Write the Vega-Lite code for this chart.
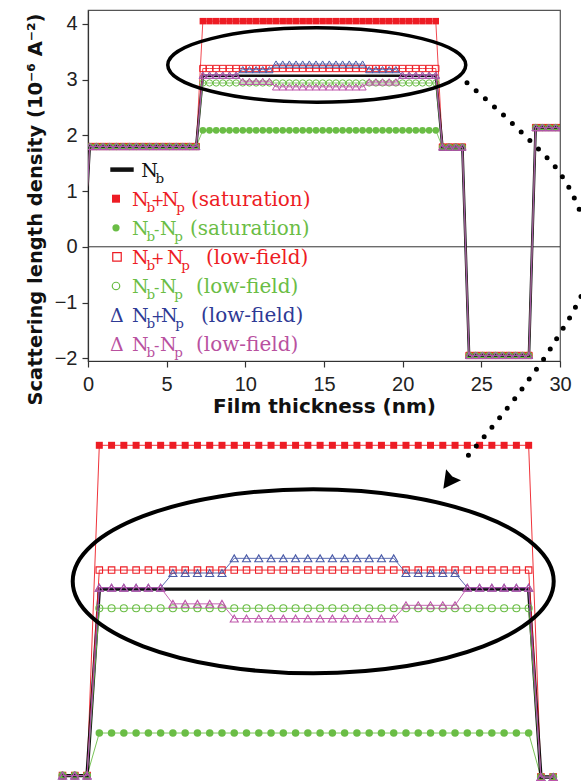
{
  "$schema": "https://vega.github.io/schema/vega-lite/v6.json",
  "background": "white",
  "autosize": {"type": "pad"},
  "padding": {"left": 24, "top": 9, "right": 0, "bottom": 0},
  "config": {"view": {"stroke": null}},
  "bounds": "flush",
  "spacing": 70,
  "datasets": {
    "profile": [
      {"k":-1,"x":-0.314,"nb":-0.4,"sp":-0.4,"sm":-0.4,"lp":-0.4,"lm":-0.4,"dp":-0.4,"dm":-0.4},
      {"k":0,"x":0.109,"nb":1.8,"sp":1.8,"sm":1.8,"lp":1.8,"lm":1.8,"dp":1.8,"dm":1.8},
      {"k":1,"x":0.532,"nb":1.8,"sp":1.8,"sm":1.8,"lp":1.8,"lm":1.8,"dp":1.8,"dm":1.8},
      {"k":2,"x":0.955,"nb":1.8,"sp":1.8,"sm":1.8,"lp":1.8,"lm":1.8,"dp":1.8,"dm":1.8},
      {"k":3,"x":1.378,"nb":1.8,"sp":1.8,"sm":1.8,"lp":1.8,"lm":1.8,"dp":1.8,"dm":1.8},
      {"k":4,"x":1.801,"nb":1.8,"sp":1.8,"sm":1.8,"lp":1.8,"lm":1.8,"dp":1.8,"dm":1.8},
      {"k":5,"x":2.224,"nb":1.8,"sp":1.8,"sm":1.8,"lp":1.8,"lm":1.8,"dp":1.8,"dm":1.8},
      {"k":6,"x":2.647,"nb":1.8,"sp":1.8,"sm":1.8,"lp":1.8,"lm":1.8,"dp":1.8,"dm":1.8},
      {"k":7,"x":3.07,"nb":1.8,"sp":1.8,"sm":1.8,"lp":1.8,"lm":1.8,"dp":1.8,"dm":1.8},
      {"k":8,"x":3.493,"nb":1.8,"sp":1.8,"sm":1.8,"lp":1.8,"lm":1.8,"dp":1.8,"dm":1.8},
      {"k":9,"x":3.916,"nb":1.8,"sp":1.8,"sm":1.8,"lp":1.8,"lm":1.8,"dp":1.8,"dm":1.8},
      {"k":10,"x":4.339,"nb":1.8,"sp":1.8,"sm":1.8,"lp":1.8,"lm":1.8,"dp":1.8,"dm":1.8},
      {"k":11,"x":4.762,"nb":1.8,"sp":1.8,"sm":1.8,"lp":1.8,"lm":1.8,"dp":1.8,"dm":1.8},
      {"k":12,"x":5.185,"nb":1.8,"sp":1.8,"sm":1.8,"lp":1.8,"lm":1.8,"dp":1.8,"dm":1.8},
      {"k":13,"x":5.608,"nb":1.8,"sp":1.8,"sm":1.8,"lp":1.8,"lm":1.8,"dp":1.8,"dm":1.8},
      {"k":14,"x":6.031,"nb":1.8,"sp":1.8,"sm":1.8,"lp":1.8,"lm":1.8,"dp":1.8,"dm":1.8},
      {"k":15,"x":6.454,"nb":1.8,"sp":1.8,"sm":1.8,"lp":1.8,"lm":1.8,"dp":1.8,"dm":1.8},
      {"k":16,"x":6.877,"nb":1.8,"sp":1.8,"sm":1.8,"lp":1.8,"lm":1.8,"dp":1.8,"dm":1.8},
      {"k":17,"x":7.3,"nb":3.07,"sp":4.05,"sm":2.09,"lp":3.2,"lm":2.94,"dp":3.08,"dm":3.08},
      {"k":18,"x":7.723,"nb":3.07,"sp":4.05,"sm":2.09,"lp":3.2,"lm":2.94,"dp":3.08,"dm":3.08},
      {"k":19,"x":8.146,"nb":3.07,"sp":4.05,"sm":2.09,"lp":3.2,"lm":2.94,"dp":3.08,"dm":3.08},
      {"k":20,"x":8.569,"nb":3.07,"sp":4.05,"sm":2.09,"lp":3.2,"lm":2.94,"dp":3.08,"dm":3.08},
      {"k":21,"x":8.992,"nb":3.07,"sp":4.05,"sm":2.09,"lp":3.2,"lm":2.94,"dp":3.08,"dm":3.08},
      {"k":22,"x":9.415,"nb":3.07,"sp":4.05,"sm":2.09,"lp":3.2,"lm":2.94,"dp":3.08,"dm":3.08},
      {"k":23,"x":9.838,"nb":3.07,"sp":4.05,"sm":2.09,"lp":3.2,"lm":2.94,"dp":3.18,"dm":2.97},
      {"k":24,"x":10.261,"nb":3.07,"sp":4.05,"sm":2.09,"lp":3.2,"lm":2.94,"dp":3.18,"dm":2.97},
      {"k":25,"x":10.684,"nb":3.07,"sp":4.05,"sm":2.09,"lp":3.2,"lm":2.94,"dp":3.18,"dm":2.97},
      {"k":26,"x":11.107,"nb":3.07,"sp":4.05,"sm":2.09,"lp":3.2,"lm":2.94,"dp":3.18,"dm":2.97},
      {"k":27,"x":11.53,"nb":3.07,"sp":4.05,"sm":2.09,"lp":3.2,"lm":2.94,"dp":3.18,"dm":2.97},
      {"k":28,"x":11.953,"nb":3.07,"sp":4.05,"sm":2.09,"lp":3.2,"lm":2.94,"dp":3.28,"dm":2.87},
      {"k":29,"x":12.376,"nb":3.07,"sp":4.05,"sm":2.09,"lp":3.2,"lm":2.94,"dp":3.28,"dm":2.87},
      {"k":30,"x":12.799,"nb":3.07,"sp":4.05,"sm":2.09,"lp":3.2,"lm":2.94,"dp":3.28,"dm":2.87},
      {"k":31,"x":13.222,"nb":3.07,"sp":4.05,"sm":2.09,"lp":3.2,"lm":2.94,"dp":3.28,"dm":2.87},
      {"k":32,"x":13.645,"nb":3.07,"sp":4.05,"sm":2.09,"lp":3.2,"lm":2.94,"dp":3.28,"dm":2.87},
      {"k":33,"x":14.068,"nb":3.07,"sp":4.05,"sm":2.09,"lp":3.2,"lm":2.94,"dp":3.28,"dm":2.87},
      {"k":34,"x":14.491,"nb":3.07,"sp":4.05,"sm":2.09,"lp":3.2,"lm":2.94,"dp":3.28,"dm":2.87},
      {"k":35,"x":14.914,"nb":3.07,"sp":4.05,"sm":2.09,"lp":3.2,"lm":2.94,"dp":3.28,"dm":2.87},
      {"k":36,"x":15.337,"nb":3.07,"sp":4.05,"sm":2.09,"lp":3.2,"lm":2.94,"dp":3.28,"dm":2.87},
      {"k":37,"x":15.76,"nb":3.07,"sp":4.05,"sm":2.09,"lp":3.2,"lm":2.94,"dp":3.28,"dm":2.87},
      {"k":38,"x":16.183,"nb":3.07,"sp":4.05,"sm":2.09,"lp":3.2,"lm":2.94,"dp":3.28,"dm":2.87},
      {"k":39,"x":16.606,"nb":3.07,"sp":4.05,"sm":2.09,"lp":3.2,"lm":2.94,"dp":3.28,"dm":2.87},
      {"k":40,"x":17.029,"nb":3.07,"sp":4.05,"sm":2.09,"lp":3.2,"lm":2.94,"dp":3.28,"dm":2.87},
      {"k":41,"x":17.452,"nb":3.07,"sp":4.05,"sm":2.09,"lp":3.2,"lm":2.94,"dp":3.28,"dm":2.87},
      {"k":42,"x":17.875,"nb":3.07,"sp":4.05,"sm":2.09,"lp":3.2,"lm":2.94,"dp":3.18,"dm":2.96},
      {"k":43,"x":18.298,"nb":3.07,"sp":4.05,"sm":2.09,"lp":3.2,"lm":2.94,"dp":3.18,"dm":2.96},
      {"k":44,"x":18.721,"nb":3.07,"sp":4.05,"sm":2.09,"lp":3.2,"lm":2.94,"dp":3.18,"dm":2.96},
      {"k":45,"x":19.144,"nb":3.07,"sp":4.05,"sm":2.09,"lp":3.2,"lm":2.94,"dp":3.18,"dm":2.96},
      {"k":46,"x":19.567,"nb":3.07,"sp":4.05,"sm":2.09,"lp":3.2,"lm":2.94,"dp":3.18,"dm":2.96},
      {"k":47,"x":19.99,"nb":3.07,"sp":4.05,"sm":2.09,"lp":3.2,"lm":2.94,"dp":3.08,"dm":3.08},
      {"k":48,"x":20.413,"nb":3.07,"sp":4.05,"sm":2.09,"lp":3.2,"lm":2.94,"dp":3.08,"dm":3.08},
      {"k":49,"x":20.836,"nb":3.07,"sp":4.05,"sm":2.09,"lp":3.2,"lm":2.94,"dp":3.08,"dm":3.08},
      {"k":50,"x":21.259,"nb":3.07,"sp":4.05,"sm":2.09,"lp":3.2,"lm":2.94,"dp":3.08,"dm":3.08},
      {"k":51,"x":21.682,"nb":3.07,"sp":4.05,"sm":2.09,"lp":3.2,"lm":2.94,"dp":3.08,"dm":3.08},
      {"k":52,"x":22.105,"nb":3.07,"sp":4.05,"sm":2.09,"lp":3.2,"lm":2.94,"dp":3.08,"dm":3.08},
      {"k":53,"x":22.528,"nb":1.79,"sp":1.79,"sm":1.79,"lp":1.79,"lm":1.79,"dp":1.79,"dm":1.79},
      {"k":54,"x":22.951,"nb":1.79,"sp":1.79,"sm":1.79,"lp":1.79,"lm":1.79,"dp":1.79,"dm":1.79},
      {"k":55,"x":23.374,"nb":1.79,"sp":1.79,"sm":1.79,"lp":1.79,"lm":1.79,"dp":1.79,"dm":1.79},
      {"k":56,"x":23.797,"nb":1.79,"sp":1.79,"sm":1.79,"lp":1.79,"lm":1.79,"dp":1.79,"dm":1.79},
      {"k":57,"x":24.22,"nb":-1.95,"sp":-1.95,"sm":-1.95,"lp":-1.95,"lm":-1.95,"dp":-1.95,"dm":-1.95},
      {"k":58,"x":24.643,"nb":-1.95,"sp":-1.95,"sm":-1.95,"lp":-1.95,"lm":-1.95,"dp":-1.95,"dm":-1.95},
      {"k":59,"x":25.066,"nb":-1.95,"sp":-1.95,"sm":-1.95,"lp":-1.95,"lm":-1.95,"dp":-1.95,"dm":-1.95},
      {"k":60,"x":25.489,"nb":-1.95,"sp":-1.95,"sm":-1.95,"lp":-1.95,"lm":-1.95,"dp":-1.95,"dm":-1.95},
      {"k":61,"x":25.912,"nb":-1.95,"sp":-1.95,"sm":-1.95,"lp":-1.95,"lm":-1.95,"dp":-1.95,"dm":-1.95},
      {"k":62,"x":26.335,"nb":-1.95,"sp":-1.95,"sm":-1.95,"lp":-1.95,"lm":-1.95,"dp":-1.95,"dm":-1.95},
      {"k":63,"x":26.758,"nb":-1.95,"sp":-1.95,"sm":-1.95,"lp":-1.95,"lm":-1.95,"dp":-1.95,"dm":-1.95},
      {"k":64,"x":27.181,"nb":-1.95,"sp":-1.95,"sm":-1.95,"lp":-1.95,"lm":-1.95,"dp":-1.95,"dm":-1.95},
      {"k":65,"x":27.604,"nb":-1.95,"sp":-1.95,"sm":-1.95,"lp":-1.95,"lm":-1.95,"dp":-1.95,"dm":-1.95},
      {"k":66,"x":28.027,"nb":-1.95,"sp":-1.95,"sm":-1.95,"lp":-1.95,"lm":-1.95,"dp":-1.95,"dm":-1.95},
      {"k":67,"x":28.45,"nb":2.14,"sp":2.14,"sm":2.14,"lp":2.14,"lm":2.14,"dp":2.14,"dm":2.14},
      {"k":68,"x":28.873,"nb":2.14,"sp":2.14,"sm":2.14,"lp":2.14,"lm":2.14,"dp":2.14,"dm":2.14},
      {"k":69,"x":29.296,"nb":2.14,"sp":2.14,"sm":2.14,"lp":2.14,"lm":2.14,"dp":2.14,"dm":2.14},
      {"k":70,"x":29.719,"nb":2.14,"sp":2.14,"sm":2.14,"lp":2.14,"lm":2.14,"dp":2.14,"dm":2.14},
      {"k":71,"x":30.142,"nb":2.14,"sp":2.14,"sm":2.14,"lp":2.14,"lm":2.14,"dp":2.14,"dm":2.14}
    ],
    "legendText": [
      {"x":3.388,"v":1.2597,"t":"N","r":"main","s":"nb"},
      {"x":4.29,"v":1.2597,"t":"b","r":"sub","s":"nb"},
      {"x":2.797,"v":0.7375,"t":"N","r":"main","s":"sp"},
      {"x":3.718,"v":0.7375,"t":"b","r":"sub","s":"sp"},
      {"x":4.437,"v":0.7375,"t":"+","r":"op","s":"sp"},
      {"x":4.703,"v":0.7375,"t":"N","r":"main","s":"sp"},
      {"x":5.609,"v":0.7375,"t":"p","r":"sub","s":"sp"},
      {"x":6.546,"v":0.7375,"t":"(saturation)","r":"paren","s":"sp"},
      {"x":2.797,"v":0.2153,"t":"N","r":"main","s":"sm"},
      {"x":3.718,"v":0.2153,"t":"b","r":"sub","s":"sm"},
      {"x":4.367,"v":0.2153,"t":"-","r":"op","s":"sm"},
      {"x":4.576,"v":0.2153,"t":"N","r":"main","s":"sm"},
      {"x":5.482,"v":0.2153,"t":"p","r":"sub","s":"sm"},
      {"x":6.482,"v":0.2153,"t":"(saturation)","r":"paren","s":"sm"},
      {"x":2.797,"v":-0.3068,"t":"N","r":"main","s":"lp"},
      {"x":3.718,"v":-0.3068,"t":"b","r":"sub","s":"lp"},
      {"x":4.437,"v":-0.3068,"t":"+","r":"op","s":"lp"},
      {"x":5.021,"v":-0.3068,"t":"N","r":"main","s":"lp"},
      {"x":5.924,"v":-0.3068,"t":"p","r":"sub","s":"lp"},
      {"x":7.5,"v":-0.3068,"t":"(low-field)","r":"paren","s":"lp"},
      {"x":2.797,"v":-0.829,"t":"N","r":"main","s":"lm"},
      {"x":3.718,"v":-0.829,"t":"b","r":"sub","s":"lm"},
      {"x":4.367,"v":-0.829,"t":"-","r":"op","s":"lm"},
      {"x":4.576,"v":-0.829,"t":"N","r":"main","s":"lm"},
      {"x":5.482,"v":-0.829,"t":"p","r":"sub","s":"lm"},
      {"x":6.864,"v":-0.829,"t":"(low-field)","r":"paren","s":"lm"},
      {"x":1.398,"v":-1.3512,"t":"Δ","r":"main","s":"dp"},
      {"x":2.797,"v":-1.3512,"t":"N","r":"main","s":"dp"},
      {"x":3.718,"v":-1.3512,"t":"b","r":"sub","s":"dp"},
      {"x":4.437,"v":-1.3512,"t":"+","r":"op","s":"dp"},
      {"x":4.64,"v":-1.3512,"t":"N","r":"main","s":"dp"},
      {"x":5.542,"v":-1.3512,"t":"p","r":"sub","s":"dp"},
      {"x":7.182,"v":-1.3512,"t":"(low-field)","r":"paren","s":"dp"},
      {"x":1.398,"v":-1.8733,"t":"Δ","r":"main","s":"dm"},
      {"x":2.797,"v":-1.8733,"t":"N","r":"main","s":"dm"},
      {"x":3.718,"v":-1.8733,"t":"b","r":"sub","s":"dm"},
      {"x":4.367,"v":-1.8733,"t":"-","r":"op","s":"dm"},
      {"x":4.576,"v":-1.8733,"t":"N","r":"main","s":"dm"},
      {"x":5.482,"v":-1.8733,"t":"p","r":"sub","s":"dm"},
      {"x":6.864,"v":-1.8733,"t":"(low-field)","r":"paren","s":"dm"}
    ],
    "legendSymbols": [
      {"x":1.78,"v":0.8631,"s":"sp"},
      {"x":1.78,"v":0.3409,"s":"sm"},
      {"x":1.843,"v":-0.1812,"s":"lp"},
      {"x":1.78,"v":-0.7034,"s":"lm"}
    ],
    "legendLine": [{"x":1.417,"x2":2.905,"v":1.3853}],
    "zoomPath": [
      {"seg":"a","i":0,"x":19.979,"v":6.52},
      {"seg":"a","i":1,"x":20.61,"v":6.411},
      {"seg":"a","i":2,"x":21.244,"v":6.298},
      {"seg":"a","i":3,"x":21.851,"v":6.184},
      {"seg":"a","i":4,"x":22.451,"v":6.066},
      {"seg":"a","i":5,"x":23.024,"v":5.946},
      {"seg":"a","i":6,"x":23.52,"v":5.798},
      {"seg":"a","i":7,"x":23.858,"v":5.653},
      {"seg":"b","i":0,"x":23.91,"v":5.064},
      {"seg":"b","i":1,"x":23.555,"v":4.931},
      {"seg":"b","i":2,"x":23.107,"v":4.788},
      {"seg":"b","i":3,"x":22.658,"v":4.647},
      {"seg":"b","i":4,"x":22.141,"v":4.506},
      {"seg":"b","i":5,"x":21.634,"v":4.37},
      {"seg":"b","i":6,"x":21.127,"v":4.243},
      {"seg":"b","i":7,"x":20.589,"v":4.113},
      {"seg":"b","i":8,"x":20.038,"v":3.984},
      {"seg":"b","i":9,"x":19.762,"v":3.921}
    ]
  },
  "vconcat": [
    {
      "width": 472,
      "height": 351,
      "view": {"stroke": "#555", "strokeWidth": 1.2},
      "layer": [
        {
          "data": {"values": [{"v": 0}]},
          "mark": {"type": "rule", "color": "#333", "strokeWidth": 1},
          "encoding": {"y": {"field": "v", "type": "quantitative"}}
        },
        {
          "data": {"name": "profile"},
          "layer": [
            {
              "mark": {"type": "line", "color": "#ED1C24", "strokeWidth": 0.8, "clip": true},
              "encoding": {
                "x": {
                  "field": "x", "type": "quantitative",
                  "scale": {"domain": [0, 30], "nice": false, "zero": false},
                  "axis": {
                    "title": "Film thickness (nm)",
                    "values": [0, 2.5, 5, 7.5, 10, 12.5, 15, 17.5, 20, 22.5, 25, 27.5, 30],
                    "labelExpr": "datum.value % 5 === 0 ? format(datum.value, 'd') : ''",
                    "tickSize": {"condition": {"test": "datum.value % 5 === 0", "value": 6}, "value": 3.5},
                    "grid": false,
                    "domainColor": "#333", "domainWidth": 1.2,
                    "tickColor": "#333", "tickWidth": 1.2,
                    "labelFont": "Liberation Sans", "labelFontSize": 20, "labelColor": "#222",
                    "labelPadding": 7, "labelFlush": false, "labelOverlap": false,
                    "titleFont": "DejaVu Sans", "titleFontSize": 20, "titleFontWeight": "bold", "titleColor": "#111",
                    "titleBaseline": "alphabetic", "titleY": 51
                  }
                },
                "y": {
                  "field": "sp", "type": "quantitative",
                  "scale": {"domain": [-2.05, 4.25], "nice": false, "zero": false},
                  "axis": {
                    "title": "Scattering length density (10⁻⁶ A⁻²)",
                    "values": [-2, -1.5, -1, -0.5, 0, 0.5, 1, 1.5, 2, 2.5, 3, 3.5, 4],
                    "labelExpr": "datum.value % 1 === 0 ? format(datum.value, 'd') : ''",
                    "tickSize": {"condition": {"test": "datum.value % 1 === 0", "value": 6}, "value": 3.5},
                    "grid": false,
                    "domainColor": "#333", "domainWidth": 1.2,
                    "tickColor": "#333", "tickWidth": 1.2,
                    "labelFont": "Liberation Sans", "labelFontSize": 20, "labelColor": "#222",
                    "labelPadding": 5, "labelFlush": false, "labelOverlap": false,
                    "titleFont": "DejaVu Sans", "titleFontSize": 19.5, "titleFontWeight": "bold", "titleColor": "#111",
                    "titleAngle": 270, "titleAlign": "center", "titleBaseline": "alphabetic",
                    "titleX": -47, "titleY": 199
                  }
                }
              }
            },
            {
              "mark": {"type": "point", "shape": "square", "filled": true, "size": 42, "color": "#ED1C24", "opacity": 1, "clip": true},
              "encoding": {"x": {"field": "x", "type": "quantitative"}, "y": {"field": "sp", "type": "quantitative"}}
            },
            {
              "mark": {"type": "line", "color": "#6ABD45", "strokeWidth": 0.8, "clip": true},
              "encoding": {"x": {"field": "x", "type": "quantitative"}, "y": {"field": "sm", "type": "quantitative"}}
            },
            {
              "mark": {"type": "point", "shape": "circle", "filled": true, "size": 46, "color": "#6ABD45", "opacity": 1, "clip": true},
              "encoding": {"x": {"field": "x", "type": "quantitative"}, "y": {"field": "sm", "type": "quantitative"}}
            },
            {
              "mark": {"type": "line", "color": "#111111", "strokeWidth": 2.6, "clip": true},
              "encoding": {"x": {"field": "x", "type": "quantitative"}, "y": {"field": "nb", "type": "quantitative"}}
            },
            {
              "mark": {"type": "line", "color": "#ED1C24", "strokeWidth": 0.8, "clip": true},
              "encoding": {"x": {"field": "x", "type": "quantitative"}, "y": {"field": "lp", "type": "quantitative"}}
            },
            {
              "mark": {"type": "point", "shape": "square", "filled": false, "size": 40, "strokeWidth": 1, "color": "#ED1C24", "opacity": 1, "clip": true},
              "encoding": {"x": {"field": "x", "type": "quantitative"}, "y": {"field": "lp", "type": "quantitative"}}
            },
            {
              "mark": {"type": "line", "color": "#6ABD45", "strokeWidth": 0.8, "clip": true},
              "encoding": {"x": {"field": "x", "type": "quantitative"}, "y": {"field": "lm", "type": "quantitative"}}
            },
            {
              "mark": {"type": "point", "shape": "circle", "filled": false, "size": 40, "strokeWidth": 1, "color": "#6ABD45", "opacity": 1, "clip": true},
              "encoding": {"x": {"field": "x", "type": "quantitative"}, "y": {"field": "lm", "type": "quantitative"}}
            },
            {
              "mark": {"type": "line", "color": "#4A5BA8", "strokeWidth": 0.8, "clip": true},
              "encoding": {"x": {"field": "x", "type": "quantitative"}, "y": {"field": "dp", "type": "quantitative"}}
            },
            {
              "mark": {"type": "point", "shape": "triangle-up", "filled": false, "size": 52, "strokeWidth": 1, "color": "#4A5BA8", "opacity": 1, "clip": true},
              "encoding": {"x": {"field": "x", "type": "quantitative"}, "y": {"field": "dp", "type": "quantitative"}}
            },
            {
              "mark": {"type": "line", "color": "#BE55AA", "strokeWidth": 0.8, "clip": true},
              "encoding": {"x": {"field": "x", "type": "quantitative"}, "y": {"field": "dm", "type": "quantitative"}}
            },
            {
              "mark": {"type": "point", "shape": "triangle-up", "filled": false, "size": 52, "strokeWidth": 1, "color": "#BE55AA", "opacity": 1, "clip": true},
              "encoding": {"x": {"field": "x", "type": "quantitative"}, "y": {"field": "dm", "type": "quantitative"}}
            }
          ]
        },
        {
          "data": {"name": "legendLine"},
          "mark": {"type": "rule", "color": "#111111", "strokeWidth": 4.5},
          "encoding": {
            "x": {"field": "x", "type": "quantitative"},
            "x2": {"field": "x2"},
            "y": {"field": "v", "type": "quantitative"}
          }
        },
        {
          "data": {"name": "legendSymbols"},
          "transform": [{"filter": "datum.s === 'sp'"}],
          "mark": {"type": "point", "shape": "square", "filled": true, "size": 64, "color": "#ED1C24", "opacity": 1},
          "encoding": {"x": {"field": "x", "type": "quantitative"}, "y": {"field": "v", "type": "quantitative"}}
        },
        {
          "data": {"name": "legendSymbols"},
          "transform": [{"filter": "datum.s === 'sm'"}],
          "mark": {"type": "point", "shape": "circle", "filled": true, "size": 52, "color": "#6ABD45", "opacity": 1},
          "encoding": {"x": {"field": "x", "type": "quantitative"}, "y": {"field": "v", "type": "quantitative"}}
        },
        {
          "data": {"name": "legendSymbols"},
          "transform": [{"filter": "datum.s === 'lp'"}],
          "mark": {"type": "point", "shape": "square", "filled": false, "size": 72, "strokeWidth": 1.2, "color": "#ED1C24", "opacity": 1},
          "encoding": {"x": {"field": "x", "type": "quantitative"}, "y": {"field": "v", "type": "quantitative"}}
        },
        {
          "data": {"name": "legendSymbols"},
          "transform": [{"filter": "datum.s === 'lm'"}],
          "mark": {"type": "point", "shape": "circle", "filled": false, "size": 56, "strokeWidth": 1.2, "color": "#6ABD45", "opacity": 1},
          "encoding": {"x": {"field": "x", "type": "quantitative"}, "y": {"field": "v", "type": "quantitative"}}
        },
        {
          "data": {"name": "legendText"},
          "transform": [{"filter": "datum.r === 'main'"}],
          "mark": {"type": "text", "font": "DejaVu Serif", "fontSize": 19, "align": "left", "baseline": "alphabetic"},
          "encoding": {
            "x": {"field": "x", "type": "quantitative"},
            "y": {"field": "v", "type": "quantitative"},
            "text": {"field": "t"},
            "color": {"field": "s", "type": "nominal", "legend": null,
              "scale": {"domain": ["nb", "sp", "sm", "lp", "lm", "dp", "dm"], "range": ["#111111", "#ED1C24", "#6ABD45", "#ED1C24", "#6ABD45", "#2E3A95", "#B9519F"]}}
          }
        },
        {
          "data": {"name": "legendText"},
          "transform": [{"filter": "datum.r === 'sub'"}],
          "mark": {"type": "text", "font": "DejaVu Serif", "fontSize": 13.5, "align": "left", "baseline": "alphabetic", "dy": 6},
          "encoding": {
            "x": {"field": "x", "type": "quantitative"},
            "y": {"field": "v", "type": "quantitative"},
            "text": {"field": "t"},
            "color": {"field": "s", "type": "nominal", "legend": null,
              "scale": {"domain": ["nb", "sp", "sm", "lp", "lm", "dp", "dm"], "range": ["#111111", "#ED1C24", "#6ABD45", "#ED1C24", "#6ABD45", "#2E3A95", "#B9519F"]}}
          }
        },
        {
          "data": {"name": "legendText"},
          "transform": [{"filter": "datum.r === 'op'"}],
          "mark": {"type": "text", "font": "DejaVu Serif", "fontSize": 16, "align": "center", "baseline": "alphabetic"},
          "encoding": {
            "x": {"field": "x", "type": "quantitative"},
            "y": {"field": "v", "type": "quantitative"},
            "text": {"field": "t"},
            "color": {"field": "s", "type": "nominal", "legend": null,
              "scale": {"domain": ["nb", "sp", "sm", "lp", "lm", "dp", "dm"], "range": ["#111111", "#ED1C24", "#6ABD45", "#ED1C24", "#6ABD45", "#2E3A95", "#B9519F"]}}
          }
        },
        {
          "data": {"name": "legendText"},
          "transform": [{"filter": "datum.r === 'paren'"}],
          "mark": {"type": "text", "font": "DejaVu Serif", "fontSize": 20, "align": "left", "baseline": "alphabetic"},
          "encoding": {
            "x": {"field": "x", "type": "quantitative"},
            "y": {"field": "v", "type": "quantitative"},
            "text": {"field": "t"},
            "color": {"field": "s", "type": "nominal", "legend": null,
              "scale": {"domain": ["nb", "sp", "sm", "lp", "lm", "dp", "dm"], "range": ["#111111", "#ED1C24", "#6ABD45", "#ED1C24", "#6ABD45", "#2E3A95", "#B9519F"]}}
          }
        },
        {
          "data": {"values": [{"x": 14.54, "v": 3.264}]},
          "mark": {"type": "point", "shape": "M 1 0 C 1 0.1379 0.5523 0.2497 0 0.2497 C -0.5523 0.2497 -1 0.1379 -1 0 C -1 -0.1379 -0.5523 -0.2497 0 -0.2497 C 0.5523 -0.2497 1 -0.1379 1 0 Z",
                   "size": 88804, "filled": false, "color": "#000000", "strokeWidth": 3.5, "opacity": 1},
          "encoding": {"x": {"field": "x", "type": "quantitative"}, "y": {"field": "v", "type": "quantitative"}}
        }
      ]
    },
    {
      "width": 472,
      "height": 353,
      "view": {"stroke": null},
      "layer": [
        {
          "data": {"name": "profile"},
          "transform": [{"filter": "datum.k >= 14 && datum.k <= 54"}],
          "layer": [
            {
              "mark": {"type": "line", "color": "#ED1C24", "strokeWidth": 0.9},
              "encoding": {
                "x": {"field": "x", "type": "quantitative", "scale": {"domain": [6.91, 23.186], "nice": false, "zero": false}, "axis": null},
                "y": {"field": "sp", "type": "quantitative", "scale": {"domain": [1.7428, 4.1474], "nice": false, "zero": false}, "axis": null}
              }
            },
            {
              "mark": {"type": "point", "shape": "square", "filled": true, "size": 49, "color": "#ED1C24", "opacity": 1},
              "encoding": {"x": {"field": "x", "type": "quantitative", "axis": null}, "y": {"field": "sp", "type": "quantitative", "axis": null}}
            },
            {
              "mark": {"type": "line", "color": "#6ABD45", "strokeWidth": 0.9},
              "encoding": {"x": {"field": "x", "type": "quantitative", "axis": null}, "y": {"field": "sm", "type": "quantitative", "axis": null}}
            },
            {
              "mark": {"type": "point", "shape": "circle", "filled": true, "size": 56, "color": "#6ABD45", "opacity": 1},
              "encoding": {"x": {"field": "x", "type": "quantitative", "axis": null}, "y": {"field": "sm", "type": "quantitative", "axis": null}}
            },
            {
              "mark": {"type": "line", "color": "#111111", "strokeWidth": 3.4},
              "encoding": {"x": {"field": "x", "type": "quantitative", "axis": null}, "y": {"field": "nb", "type": "quantitative", "axis": null}}
            },
            {
              "mark": {"type": "line", "color": "#ED1C24", "strokeWidth": 0.9},
              "encoding": {"x": {"field": "x", "type": "quantitative", "axis": null}, "y": {"field": "lp", "type": "quantitative", "axis": null}}
            },
            {
              "mark": {"type": "point", "shape": "square", "filled": false, "size": 42, "strokeWidth": 1.1, "color": "#ED1C24", "opacity": 1},
              "encoding": {"x": {"field": "x", "type": "quantitative", "axis": null}, "y": {"field": "lp", "type": "quantitative", "axis": null}}
            },
            {
              "mark": {"type": "line", "color": "#6ABD45", "strokeWidth": 0.9},
              "encoding": {"x": {"field": "x", "type": "quantitative", "axis": null}, "y": {"field": "lm", "type": "quantitative", "axis": null}}
            },
            {
              "mark": {"type": "point", "shape": "circle", "filled": false, "size": 49, "strokeWidth": 1.1, "color": "#6ABD45", "opacity": 1},
              "encoding": {"x": {"field": "x", "type": "quantitative", "axis": null}, "y": {"field": "lm", "type": "quantitative", "axis": null}}
            },
            {
              "mark": {"type": "line", "color": "#4A5BA8", "strokeWidth": 0.9},
              "encoding": {"x": {"field": "x", "type": "quantitative", "axis": null}, "y": {"field": "dp", "type": "quantitative", "axis": null}}
            },
            {
              "mark": {"type": "point", "shape": "triangle-up", "filled": false, "size": 64, "strokeWidth": 1.1, "color": "#4A5BA8", "opacity": 1},
              "encoding": {"x": {"field": "x", "type": "quantitative", "axis": null}, "y": {"field": "dp", "type": "quantitative", "axis": null}}
            },
            {
              "mark": {"type": "line", "color": "#BE55AA", "strokeWidth": 0.9},
              "encoding": {"x": {"field": "x", "type": "quantitative", "axis": null}, "y": {"field": "dm", "type": "quantitative", "axis": null}}
            },
            {
              "mark": {"type": "point", "shape": "triangle-up", "filled": false, "size": 64, "strokeWidth": 1.1, "color": "#BE55AA", "opacity": 1},
              "encoding": {"x": {"field": "x", "type": "quantitative", "axis": null}, "y": {"field": "dm", "type": "quantitative", "axis": null}}
            }
          ]
        },
        {
          "data": {"values": [{"x": 14.676, "v": 3.124}]},
          "mark": {"type": "point", "shape": "M 1 0 C 1 0.2113 0.5523 0.3825 0 0.3825 C -0.5523 0.3825 -1 0.2113 -1 0 C -1 -0.2113 -0.5523 -0.3825 0 -0.3825 C 0.5523 -0.3825 1 -0.2113 1 0 Z",
                   "size": 231361, "filled": false, "color": "#000000", "strokeWidth": 4, "opacity": 1},
          "encoding": {"x": {"field": "x", "type": "quantitative", "axis": null}, "y": {"field": "v", "type": "quantitative", "axis": null}}
        },
        {
          "data": {"name": "zoomPath"},
          "mark": {"type": "line", "interpolate": "catmull-rom", "color": "#000000", "strokeWidth": 5, "strokeCap": "round", "strokeDash": [0, 12.2]},
          "encoding": {
            "x": {"field": "x", "type": "quantitative", "axis": null},
            "y": {"field": "v", "type": "quantitative", "axis": null},
            "detail": {"field": "seg"},
            "order": {"field": "i", "type": "quantitative"}
          }
        },
        {
          "data": {"values": [{"x": 19.37, "v": 3.81}]},
          "mark": {"type": "point", "shape": "M 0 -1 L 0.9 0.7 L 0 0.5 L -0.9 0.7 Z", "size": 420, "angle": 216, "filled": true, "color": "#000000", "opacity": 1},
          "encoding": {"x": {"field": "x", "type": "quantitative", "axis": null}, "y": {"field": "v", "type": "quantitative", "axis": null}}
        }
      ]
    }
  ]
}
